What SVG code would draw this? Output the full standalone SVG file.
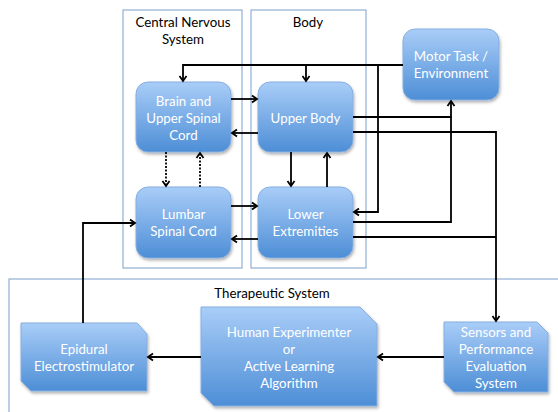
<svg xmlns="http://www.w3.org/2000/svg" width="558" height="412" viewBox="0 0 558 412">
<style>
.container{fill:none;stroke:#7c9fcb;stroke-width:1}
.node{fill:url(#g);stroke:#86aee0;stroke-width:1;filter:url(#sh)}
.lbl{font-family:Lato,"Liberation Sans",sans-serif;font-size:13.3px;fill:#ffffff;text-anchor:middle}
.ttl{font-family:Lato,"Liberation Sans",sans-serif;font-size:13.3px;fill:#000000;text-anchor:middle}
.c{fill:none;stroke:#000;stroke-width:1.8}
.a{marker-end:url(#ar)}
.d{stroke-dasharray:2,1.5}
</style>
<defs>
<linearGradient id="g" x1="0" y1="0" x2="0" y2="1">
<stop offset="0" stop-color="#a9cdf8"/>
<stop offset="1" stop-color="#4d8ed6"/>
</linearGradient>
<filter id="sh" x="-10%" y="-10%" width="130%" height="130%">
<feDropShadow dx="1" dy="2" stdDeviation="1.5" flood-color="#000" flood-opacity="0.3"/>
</filter>
<marker id="ar" markerUnits="userSpaceOnUse" markerWidth="10" markerHeight="10" refX="7" refY="5" orient="auto">
<path d="M2,1.5 L7,5 L2,8.5" fill="none" stroke="#000" stroke-width="1.8"/>
</marker>
</defs>

<g id="cns">
<rect class="container" x="123" y="10" width="119" height="258"/>
<text class="ttl" x="183" y="27">Central Nervous</text>
<text class="ttl" x="183" y="44">System</text>
</g>
<g id="body">
<rect class="container" x="251" y="10" width="115" height="258"/>
<text class="ttl" x="308" y="27">Body</text>
</g>
<g id="therapeutic">
<rect class="container" x="9" y="279" width="560" height="150"/>
<text class="ttl" x="272" y="298">Therapeutic System</text>
</g>

<g id="brain">
<rect class="node" x="136" y="82" width="95" height="70" rx="12"/>
<text class="lbl" x="183.5" y="106">Brain and</text>
<text class="lbl" x="183.5" y="123">Upper Spinal</text>
<text class="lbl" x="183.5" y="140">Cord</text>
</g>
<g id="upper">
<rect class="node" x="258" y="82" width="95" height="70" rx="12"/>
<text class="lbl" x="305.5" y="123">Upper Body</text>
</g>
<g id="lumbar">
<rect class="node" x="136" y="187" width="95" height="71" rx="12"/>
<text class="lbl" x="183.5" y="219">Lumbar</text>
<text class="lbl" x="183.5" y="236">Spinal Cord</text>
</g>
<g id="lower">
<rect class="node" x="258" y="187" width="95" height="71" rx="12"/>
<text class="lbl" x="305.5" y="219">Lower</text>
<text class="lbl" x="305.5" y="236">Extremities</text>
</g>
<g id="motor">
<rect class="node" x="403" y="29" width="96" height="71" rx="12"/>
<text class="lbl" x="451" y="61">Motor Task /</text>
<text class="lbl" x="451" y="78">Environment</text>
</g>
<g id="epidural">
<path class="node" d="M21,323 L137,323 L147,334 L147,391 L31,391 L21,381 Z"/>
<text class="lbl" x="84" y="354">Epidural</text>
<text class="lbl" x="84" y="371">Electrostimulator</text>
</g>
<g id="human">
<path class="node" d="M201,307 L360,307 L377,324 L377,406 L214,406 L201,393 Z"/>
<text class="lbl" x="289" y="337">Human Experimenter</text>
<text class="lbl" x="289" y="354">or</text>
<text class="lbl" x="289" y="371">Active Learning</text>
<text class="lbl" x="289" y="388">Algorithm</text>
</g>
<g id="sensors">
<path class="node" d="M444,322 L537,322 L548,333 L548,392 L454,392 L444,382 Z"/>
<text class="lbl" x="496" y="337">Sensors and</text>
<text class="lbl" x="496" y="354">Performance</text>
<text class="lbl" x="496" y="371">Evaluation</text>
<text class="lbl" x="496" y="388">System</text>
</g>

<g id="connectors">
<path class="c a" d="M403,65 L183,65 L183,81"/>
<path class="c a" d="M306,65 L306,81"/>
<path class="c a" d="M378,65 L378,212 L354,212"/>
<path class="c a" d="M353,117 L451,117 L451,101"/>
<path class="c" d="M353,222 L451,222 L451,117"/>
<path class="c a" d="M353,132 L496,132 L496,321"/>
<path class="c" d="M353,237 L496,237"/>
<path class="c a" d="M231,99 L257,99"/>
<path class="c a" d="M258,133 L232,133"/>
<path class="c a" d="M231,206 L257,206"/>
<path class="c a" d="M258,239 L232,239"/>
<path class="c a d" d="M166,152 L166,186"/>
<path class="c a d" d="M200,187 L200,153"/>
<path class="c a" d="M291,152 L291,186"/>
<path class="c a" d="M327,187 L327,153"/>
<path class="c a" d="M83,323 L83,223 L135,223"/>
<path class="c a" d="M444,357 L378,357"/>
<path class="c a" d="M201,357 L148,357"/>
</g>
</svg>
